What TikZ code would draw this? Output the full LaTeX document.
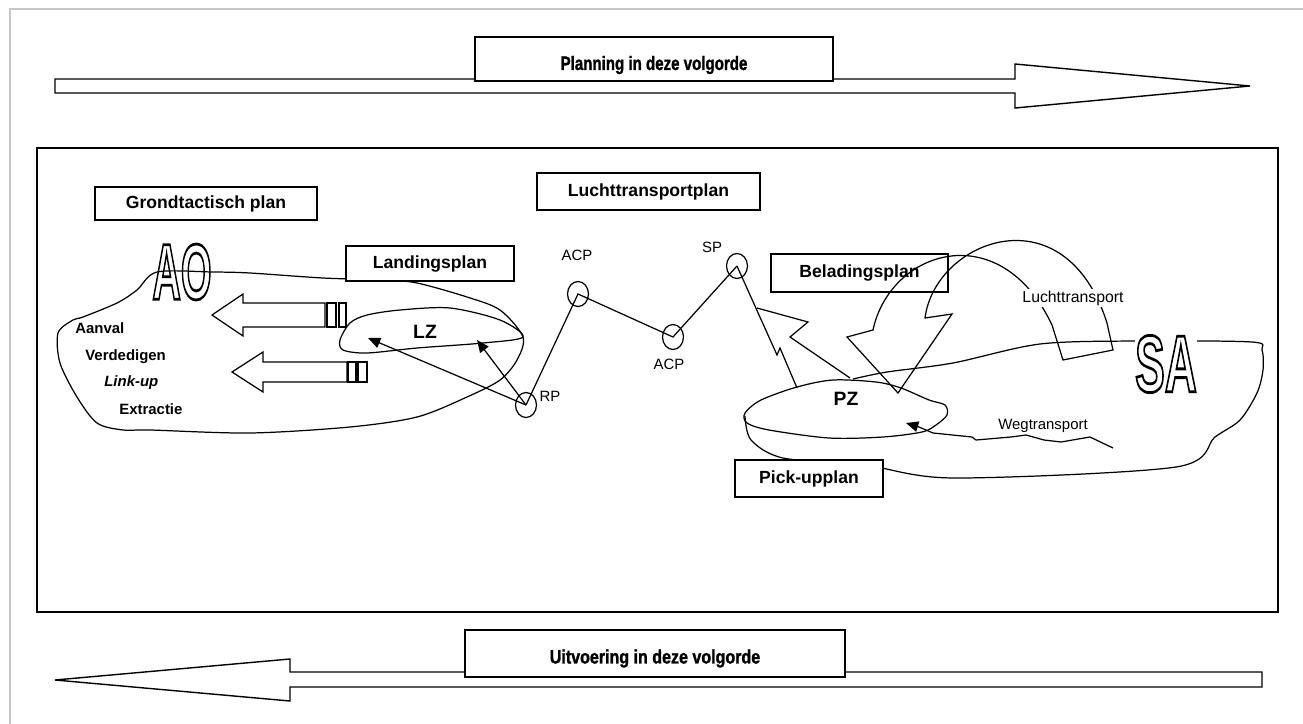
\documentclass[tikz,border=0pt]{standalone}
\usepackage{fontspec}
\setmainfont{Liberation Sans}
\newfontface\bannerfont{Liberation Sans Bold}[FakeBold=1.6]
\usetikzlibrary{shapes.geometric,arrows.meta}
\newcommand{\holtekst}[1]{\special{pdf:code 1 Tr 1.6 w}#1\special{pdf:code 0 Tr}}

\begin{document}
\begin{tikzpicture}[x=0.02cm, y=-0.02cm,
    planbox/.style={draw, line width=0.8pt, fill=white, inner sep=0pt, font=\fontsize{10}{12}\selectfont\bfseries},
    banner/.style={font=\fontsize{11}{13}\bannerfont, inner sep=0pt},
    waypt/.style={draw, ellipse, line width=0.7pt, minimum width=0.42cm, minimum height=0.5cm, inner sep=0pt},
    zone/.style={line width=0.7pt},
    lbl/.style={font=\fontsize{8.5}{10}\selectfont, inner sep=1pt},
    taak/.style={font=\fontsize{8.5}{10}\selectfont\bfseries, anchor=west, inner sep=0pt},
    pijl/.style={-{Triangle[length=7pt,width=6pt]}, line width=0.7pt}]
    \useasboundingbox (0,0) rectangle (1303,724);
    % rand van de pagina
    \draw[gray!45, line width=0.8pt] (10,724) -- (10,9) -- (1303,9);

    % === Planning in deze volgorde ===
    \draw[line width=0.8pt, fill=white] (55,79) -- (1015,79) -- (1015,64) -- (1250,86) -- (1015,108) -- (1015,93) -- (55,93) -- cycle;
    \node[planbox, minimum width=7.16cm, minimum height=0.88cm] (planning) at (654,59) {};
    \node[banner] (planningtxt) at ([yshift=-0.12cm]planning.center) {\scalebox{0.78}[1]{Planning in deze volgorde}};

    % === Uitvoering in deze volgorde ===
    \draw[line width=0.8pt, fill=white] (1262,672) -- (290,672) -- (290,659) -- (55,680) -- (290,701) -- (290,687) -- (1262,687) -- cycle;
    \node[planbox, minimum width=7.6cm, minimum height=0.94cm] (uitvoering) at (655,653.5) {};
    \node[banner] (uitvoeringtxt) at ([yshift=-0.1cm]uitvoering.center) {\scalebox{0.83}[1]{Uitvoering in deze volgorde}};

    % === Kader ===
    \draw[line width=0.9pt] (37,148) rectangle (1278,612);
    \node[planbox, minimum width=4.44cm, minimum height=0.66cm] (grond) at (206,203.5) {Grondtactisch plan};
    \node[planbox, minimum width=4.46cm, minimum height=0.74cm] (lucht) at (648.5,191.5) {Luchttransportplan};

    % === Objectgebied (AO) ===
    \node (ao) at (182,272) {\scalebox{0.5}[1]{\fontsize{45}{45}\selectfont\bfseries\holtekst{AO}}};
    \draw[zone] plot[smooth cycle] coordinates {(157,272) (213,272) (250,273) (323,278) (383,280) (417,283) (467,297) (500,310) (523,337) (517,360) (500,380) (467,397) (417,417) (350,427) (250,433) (150,430) (123,430) (97,423) (77,397) (60,363) (58,333) (73,320) (83,317) (117,303) (137,290)};
    \node[planbox, minimum width=3.36cm, minimum height=0.70cm] (landing) at (430,263.5) {Landingsplan};
    % LZ
    \draw[zone] plot[smooth cycle] coordinates {(340,340) (350,323) (367,315) (400,310) (450,308) (500,320) (523,337) (483,343) (417,348) (367,353) (343,350)};
    \node[font=\fontsize{11}{12}\selectfont\bfseries] (lz) at (425,332) {LZ};
    % taken
    \node[taak] (aanval) at (75,328) {Aanval};
    \node[taak] (verdedigen) at (85,357) {Verdedigen};
    \node[taak] (linkup) at (104,383) {\itshape Link-up};
    \node[taak] (extractie) at (119,409) {Extractie};
    % blokpijlen
    \draw[zone, fill=white] (325,303) -- (243,303) -- (243,294) -- (212,315) -- (243,336) -- (243,327) -- (325,327) -- cycle;
    \draw[zone] (327,303) rectangle (336,327) (339,303) rectangle (346,327);
    \draw[zone, fill=white] (347,362) -- (263,362) -- (263,352) -- (232,372) -- (263,392) -- (263,382) -- (347,382) -- cycle;
    \draw[zone] (348,362) rectangle (356,382) (358,362) rectangle (367,382);

    % === Route ===
    \node[waypt] (rp) at (526,405) {};
    \node[waypt] (acpa) at (578,294) {};
    \node[waypt] (acpb) at (673,337) {};
    \node[waypt] (sp) at (737,266) {};
    \draw[zone] (rp.center) -- (acpa.center) -- (acpb.center) -- (sp.center);
    \node[lbl] (rplbl) at (550,396) {RP};
    \node[lbl] (acpalbl) at (577,255) {ACP};
    \node[lbl] (acpblbl) at (669,364) {ACP};
    \node[lbl] (splbl) at (712,247) {SP};
    \coordinate (lzlinks) at (368,338);
    \coordinate (lzrechts) at (477,340);
    \draw[pijl] (rp.center) -- (lzlinks);
    \draw[pijl] (rp.center) -- (lzrechts);

    % === Steunpunt (SA) en PZ ===
    \draw[zone] plot[smooth] coordinates {(745,416) (751,440) (783,458) (865,465) (954,478) (1176,467) (1215,437) (1240,420) (1257,393) (1263,370) (1262,350) (1252,342) (1137,341) (1040,344) (953,363) (887,372) (853,379)};
    \draw[zone] plot[smooth cycle] coordinates {(745,413) (761,400) (797,387) (833,380) (876,382) (901,388) (929,400) (945,405) (947,415) (936,425) (922,432) (883,437) (829,438) (769,430) (747,423)};
    \node[font=\fontsize{11}{12}\selectfont\bfseries] (pz) at (846,399) {PZ};
    \node[fill=white, inner sep=0pt] (sa) at (1166,364) {\scalebox{0.55}[1]{\fontsize{46}{46}\selectfont\bfseries\holtekst{SA}}};
    \node[planbox, minimum width=3.54cm, minimum height=0.76cm] (belading) at (859.5,273) {Beladingsplan};
    \node[planbox, minimum width=2.96cm, minimum height=0.74cm] (pickup) at (809,478.5) {Pick-upplan};

    % bliksem SP -> PZ
    \draw[zone] (sp.center) -- (777,355) -- (780,348) -- (797,388);
    \draw[zone] (757,308) -- (808,322) -- (790,337) -- (850,378);

    % luchttransport (holle bliksempijl)
    \draw[zone] (1052,325) -- (1063,360) -- (1113,350) -- (1107,323) .. controls (1065,190) and (935,240) .. (925,318) -- (952,314) -- (898,393) -- (847,337) -- (873,330) .. controls (890,250) and (1000,215) .. (1052,325);
    \node[lbl, fill=white, font=\fontsize{9}{10}\selectfont] (luchttr) at (1073,298) {Luchttransport};

    % wegtransport
    \coordinate (wegstart) at (1113,448);
    \coordinate (pzin) at (906,423);
    \draw[pijl] (wegstart) -- (1090,437) -- (1061,442) -- (1044,440) -- (1026,435) -- (1011,437) -- (976,440) -- (972,437) -- (933,433) -- (919,427) -- (pzin);
    \node[lbl] (wegtr) at (1043,426) {Wegtransport};
\end{tikzpicture}
\end{document}
